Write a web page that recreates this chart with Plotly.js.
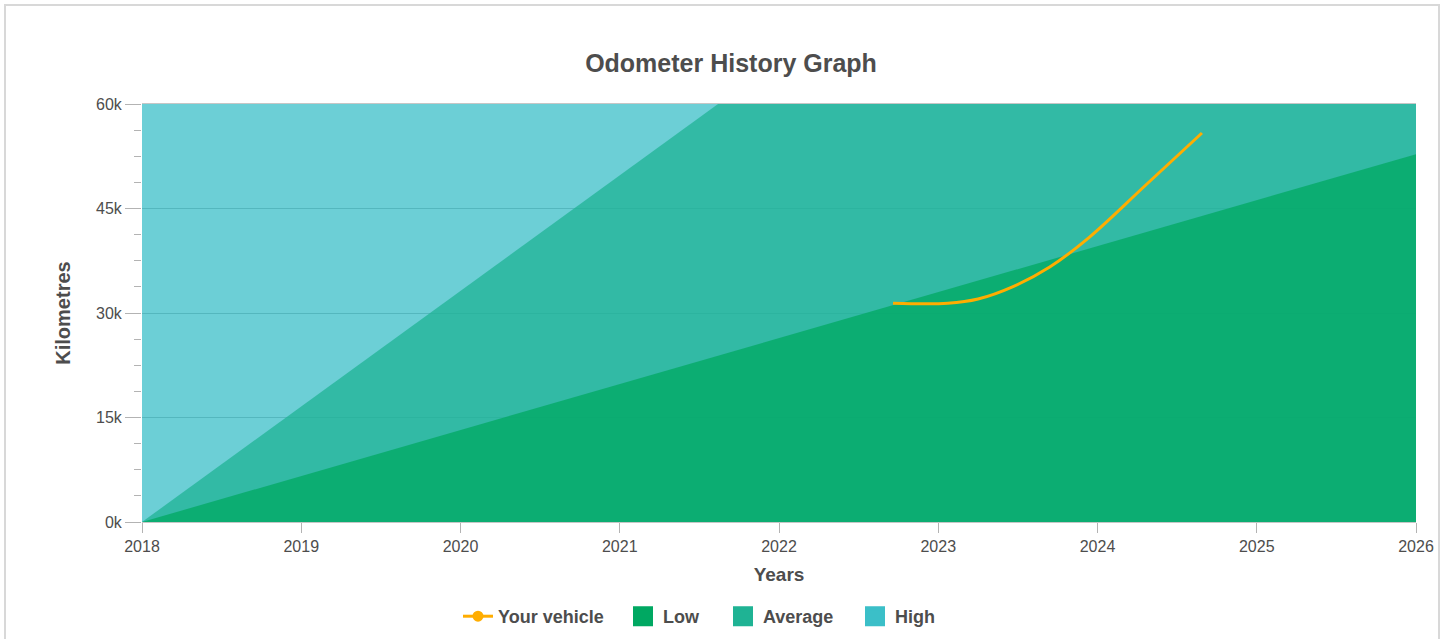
<!DOCTYPE html>
<html>
<head>
<meta charset="utf-8">
<script src="https://cdn.plot.ly/plotly-3.0.1.min.js"></script>
<style>
  html, body { margin: 0; padding: 0; background: #ffffff; overflow: hidden; }
  #frame { position: absolute; left: 4px; top: 4px; width: 1432px; height: 660px; border: 2px solid #d8d8d8; background: #fff; }
  #chart { position: absolute; left: 0; top: 0; width: 1432px; height: 633px; }
</style>
</head>
<body>
<div id="frame"><div id="chart"></div></div>
<script>
// ---- data ----
const bandYears   = [2018, 2026];
const lowKm       = [0, 52800];
const averageKm   = [0, 132700];
const highKm      = [60000, 60000];

const vehicleYears = [2022.716, 2023.06, 2023.25, 2023.47, 2023.70, 2023.95, 2024.30, 2024.656];
const vehicleKm    = [31390, 31390, 32000, 33780, 36600, 40900, 48300, 55840];

const yTickVals  = [0, 15000, 30000, 45000, 60000];
const yTickText  = ['0k', '15k', '30k', '45k', '60k'];
const xTickVals  = [2018, 2019, 2020, 2021, 2022, 2023, 2024, 2025, 2026];
const xTickText  = ['2018', '2019', '2020', '2021', '2022', '2023', '2024', '2025', '2026'];

const seriesNames = ['Your vehicle', 'Low', 'Average', 'High'];
const colVehicle = '#ffad00';
const colLow = '#00a862';
const colAvg = '#1fb394';
const colHigh = '#3bbfc8';
const alpha = (hex, a) => {
  const n = parseInt(hex.slice(1), 16);
  return `rgba(${(n >> 16) & 255},${(n >> 8) & 255},${n & 255},${a})`;
};

const font = 'Liberation Sans, Arial, Helvetica, sans-serif';
const textCol = '#4d4d4d';
const W = 1432, H = 633, OFF = 6;

const traces = [
  { x: bandYears, y: highKm, type: 'scatter', mode: 'none', fill: 'tozeroy',
    fillcolor: alpha(colHigh, 0.75), showlegend: false, hoverinfo: 'skip' },
  { x: bandYears, y: averageKm, type: 'scatter', mode: 'none', fill: 'tozeroy',
    fillcolor: alpha(colAvg, 0.75), showlegend: false, hoverinfo: 'skip' },
  { x: bandYears, y: lowKm, type: 'scatter', mode: 'none', fill: 'tozeroy',
    fillcolor: alpha(colLow, 0.75), showlegend: false, hoverinfo: 'skip' },
  { x: vehicleYears, y: vehicleKm, type: 'scatter', mode: 'lines',
    line: { color: colVehicle, width: 3, shape: 'spline', smoothing: 1 },
    showlegend: false, hoverinfo: 'skip' },
  // legend entries
  { x: [null], y: [null], type: 'scatter', mode: 'lines+markers', name: seriesNames[0], legend: 'legend',
    line: { color: colVehicle, width: 3 }, marker: { color: colVehicle, size: 11, symbol: 'circle' } },
  { x: [null], y: [null], type: 'scatter', mode: 'markers', name: seriesNames[1], legend: 'legend2',
    marker: { color: colLow, size: 16, symbol: 'square', line: { color: colLow, width: 4 } } },
  { x: [null], y: [null], type: 'scatter', mode: 'markers', name: seriesNames[2], legend: 'legend3',
    marker: { color: colAvg, size: 16, symbol: 'square', line: { color: colAvg, width: 4 } } },
  { x: [null], y: [null], type: 'scatter', mode: 'markers', name: seriesNames[3], legend: 'legend4',
    marker: { color: colHigh, size: 16, symbol: 'square', line: { color: colHigh, width: 4 } } }
];

const legendAt = (pageX) => ({
  orientation: 'h', xref: 'container', x: (pageX - OFF) / W, xanchor: 'left',
  yref: 'container', y: 1 - (616.5 - OFF) / H, yanchor: 'middle',
  font: { family: font, size: 18, weight: 'bold', color: textCol },
  bgcolor: 'rgba(0,0,0,0)', borderwidth: 0
});

const layout = {
  width: W, height: H,
  margin: { l: 136, r: 22, t: 98, b: 117, pad: 0 },
  paper_bgcolor: 'rgba(0,0,0,0)',
  plot_bgcolor: '#ffffff',
  font: { family: font, color: textCol },
  title: {
    text: 'Odometer History Graph',
    font: { family: font, size: 25, weight: 'bold', color: textCol },
    x: (731 - OFF) / W, xref: 'container', xanchor: 'center',
    y: 1 - (63 - OFF) / H, yref: 'container', yanchor: 'middle'
  },
  xaxis: {
    range: [2018, 2026], fixedrange: true,
    tickmode: 'array', tickvals: xTickVals, ticktext: xTickText,
    ticks: 'outside', ticklen: 10, tickcolor: '#b3b3b3', tickwidth: 1,
    tickfont: { family: font, size: 16, color: textCol },
    showgrid: false, zeroline: false,
    showline: true, linecolor: '#c6c6c6', linewidth: 1, mirror: true,
    title: { text: 'Years', standoff: 13, font: { family: font, size: 19, weight: 'bold', color: textCol } }
  },
  yaxis: {
    range: [0, 60000], fixedrange: true,
    tickmode: 'array', tickvals: yTickVals, ticktext: yTickText,
    ticks: 'outside', ticklen: 16, tickcolor: '#b3b3b3', tickwidth: 1,
    tickfont: { family: font, size: 16, color: textCol },
    showgrid: true, gridcolor: '#a0a0a0', gridwidth: 1, zeroline: false,
    showline: false,
    minor: { dtick: 3750, ticks: 'outside', ticklen: 7, tickcolor: '#b3b3b3', showgrid: false },
    title: { text: 'Kilometres', standoff: 20, font: { family: font, size: 20, weight: 'bold', color: textCol } }
  },
  showlegend: true,
  legend: legendAt(458),
  legend2: legendAt(623),
  legend3: legendAt(723),
  legend4: legendAt(855),
  hovermode: false
};

Plotly.newPlot('chart', traces, layout, { displayModeBar: false, staticPlot: true });
</script>
</body>
</html>
